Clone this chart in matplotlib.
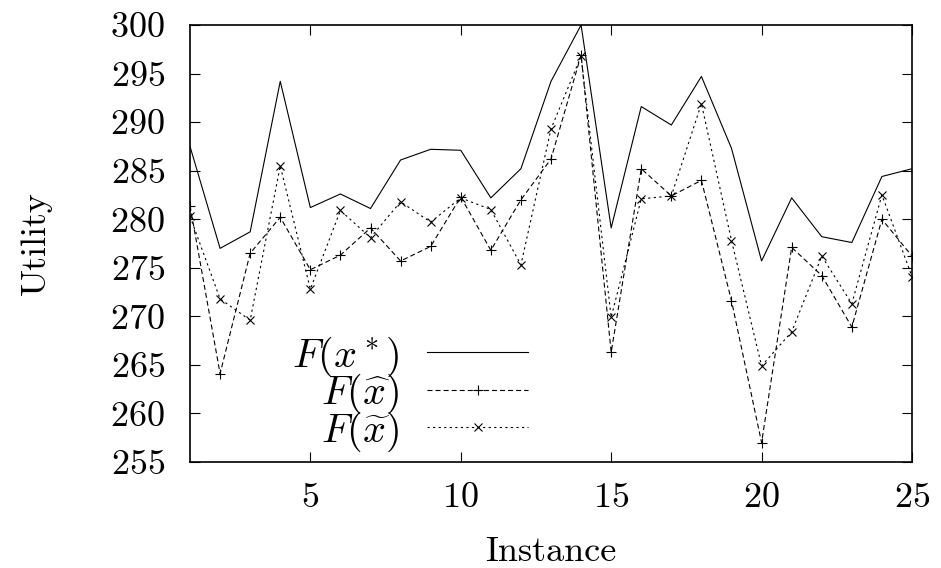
import matplotlib
matplotlib.use("Agg")
import matplotlib.pyplot as plt

plt.rcParams["font.family"] = "cmr10"
plt.rcParams["mathtext.fontset"] = "cm"
plt.rcParams["axes.formatter.use_mathtext"] = True
plt.rcParams["lines.scale_dashes"] = False

instances = list(range(1, 26))

f_opt = [287.5, 277.0, 278.7, 294.2, 281.2, 282.6, 281.1, 286.1, 287.2, 287.1,
         282.2, 285.2, 294.2, 300.0, 279.1, 291.6, 289.7, 294.7, 287.3, 275.7,
         282.2, 278.2, 277.6, 284.4, 285.2]
f_hat = [281.4, 264.1, 276.5, 280.2, 274.8, 276.3, 279.1, 275.7, 277.2, 282.3,
         276.8, 282.0, 286.2, 296.9, 266.3, 285.2, 282.4, 284.0, 271.6, 257.0,
         277.1, 274.2, 268.9, 280.0, 276.2]
f_tilde = [280.3, 271.8, 269.6, 285.5, 272.8, 280.9, 278.1, 281.8, 279.7, 282.2,
           281.0, 275.3, 289.3, 296.8, 269.9, 282.1, 282.4, 291.9, 277.8, 264.9,
           268.4, 276.2, 271.3, 282.5, 274.1]

x_ticks = [5, 10, 15, 20, 25]
y_ticks = list(range(255, 301, 5))

fig = plt.figure(figsize=(9.41, 5.68), dpi=100)
ax = fig.add_axes([190 / 941, 1 - 462 / 568, 722 / 941, 437 / 568])

ax.plot(instances, f_opt, color="black", lw=0.8, label=r"$F(x^*)$")
ax.plot(instances, f_hat, color="black", lw=0.8, dashes=(3.6, 2.2),
        marker="+", ms=7, mew=0.8, label=r"$F(\widehat{x})$")
ax.plot(instances, f_tilde, color="black", lw=0.8, dashes=(1.6, 2.4),
        marker="x", ms=6, mew=0.8, label=r"$F(\widetilde{x})$")

ax.set_xlim(1, 25)
ax.set_ylim(255, 300)
ax.set_xticks(x_ticks)
ax.set_yticks(y_ticks)
ax.tick_params(direction="in", length=7, width=0.8, labelsize=26,
               top=True, right=True)
ax.tick_params(axis="y", pad=18)
ax.tick_params(axis="x", pad=15)
for s in ax.spines.values():
    s.set_linewidth(1.2)

ax.set_xlabel("Instance", fontsize=26, labelpad=16)
ax.set_ylabel("Utility", fontsize=26, labelpad=42)

leg = ax.legend(loc="center right", bbox_to_anchor=(528 / 941, 1 - 394 / 568),
                bbox_transform=fig.transFigure, frameon=False, markerfirst=False,
                fontsize=29, handlelength=2.5, handletextpad=0.7,
                labelspacing=-0.17, borderpad=0, borderaxespad=0)

fig.savefig("out.png", dpi=100)
